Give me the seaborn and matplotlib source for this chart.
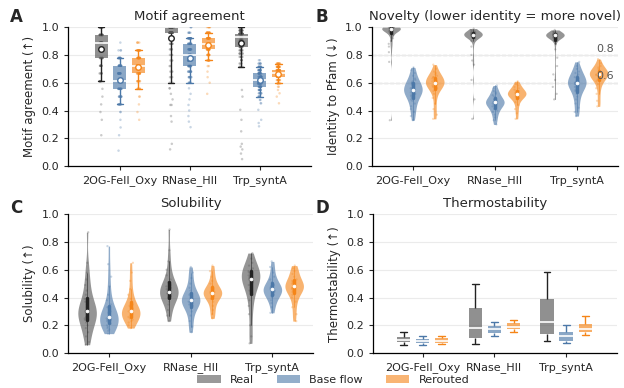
import numpy as np
import pandas as pd
import matplotlib
matplotlib.use("Agg")
import matplotlib.pyplot as plt
import matplotlib.transforms as mtransforms
from matplotlib.patches import Patch
import seaborn as sns

# ====================
# DATA
# ====================

families = ["2OG-FeII_Oxy", "RNase_HII", "Trp_syntA"]
methods = ["Real", "Base flow", "Rerouted"]

# A - motif agreement is discrete: levels per family, number of designs per level
motif_levels_2og = [0.111, 0.222, 0.278, 0.333, 0.389, 0.444, 0.5, 0.556, 0.611, 0.667,
                    0.722, 0.778, 0.833, 0.889, 0.944, 1.0]
motif_counts_2og_real = [0, 1, 0, 1, 1, 1, 1, 1, 6, 5, 8, 12, 16, 22, 22, 23]
motif_counts_2og_base = [1, 1, 1, 1, 2, 8, 10, 16, 22, 20, 20, 14, 3, 1, 0, 0]
motif_counts_2og_rerouted = [0, 0, 0, 1, 1, 1, 2, 6, 8, 14, 26, 24, 13, 4, 0, 0]

motif_levels_rnase = [0.12, 0.16, 0.28, 0.32, 0.36, 0.40, 0.44, 0.48, 0.52, 0.56, 0.60,
                      0.64, 0.68, 0.72, 0.76, 0.80, 0.84, 0.88, 0.92, 0.96, 1.0]
motif_counts_rnase_real = [1, 1, 0, 1, 1, 0, 2, 1, 1, 2, 2, 3, 3, 2, 3, 3, 4, 6, 10, 50, 104]
motif_counts_rnase_base = [0, 0, 1, 1, 1, 1, 1, 1, 1, 1, 6, 8, 12, 18, 20, 22, 20, 18, 20, 5, 3]
motif_counts_rnase_rerouted = [0, 0, 0, 0, 0, 0, 0, 0, 1, 0, 1, 1, 1, 2, 8, 12, 18, 30, 24, 16, 6]

motif_levels_trp = [0.05, 0.09, 0.12, 0.14, 0.16, 0.25, 0.286, 0.31, 0.333, 0.405, 0.452,
                    0.476, 0.5, 0.524, 0.548, 0.571, 0.595, 0.619, 0.643, 0.667, 0.69,
                    0.714, 0.738, 0.762, 0.786, 0.81, 0.833, 0.857, 0.881, 0.905, 0.929,
                    0.952, 0.976, 1.0]
motif_counts_trp_real = [1, 1, 1, 1, 1, 1, 0, 0, 1, 1, 0, 0, 1, 0, 1, 0, 0, 0, 0, 0, 0,
                         4, 3, 4, 5, 6, 8, 12, 14, 16, 22, 50, 24, 22]
motif_counts_trp_base = [0, 0, 0, 0, 0, 0, 1, 1, 1, 1, 2, 2, 5, 7, 10, 16, 20, 22, 20, 16,
                         14, 14, 6, 2, 0, 0, 0, 0, 0, 0, 0, 0, 0, 0]
motif_counts_trp_rerouted = [0, 0, 0, 0, 0, 0, 0, 0, 0, 0, 1, 0, 1, 1, 1, 2, 6, 10, 18, 30,
                             22, 18, 10, 0, 0, 0, 0, 0, 0, 0, 0, 0, 0, 0]

# B - identity to Pfam
novelty_2og_real = [0.33, 0.75, 0.82, 0.86, 0.88, 0.90, 0.92, 0.94, 0.95, 0.96, 0.97, 0.97,
                    0.975, 0.98, 0.98, 0.98, 0.985, 0.985, 0.99, 0.99, 0.99, 0.99, 0.99,
                    0.99, 0.995, 0.995, 0.995, 1.0, 1.0, 1.0, 1.0, 1.0, 1.0, 1.0, 1.0]
novelty_2og_base = [0.33, 0.36, 0.39, 0.41, 0.43, 0.45, 0.47, 0.48, 0.49, 0.50, 0.51, 0.52,
                    0.53, 0.53, 0.54, 0.545, 0.55, 0.55, 0.56, 0.56, 0.57, 0.58, 0.59, 0.60,
                    0.60, 0.61, 0.62, 0.63, 0.65, 0.67, 0.69, 0.71]
novelty_2og_rerouted = [0.34, 0.37, 0.41, 0.45, 0.49, 0.52, 0.54, 0.55, 0.56, 0.57, 0.58,
                        0.58, 0.59, 0.59, 0.60, 0.60, 0.60, 0.61, 0.61, 0.62, 0.62, 0.63,
                        0.64, 0.64, 0.65, 0.66, 0.67, 0.68, 0.70, 0.73]
novelty_rnase_real = [0.34, 0.48, 0.62, 0.73, 0.76, 0.80, 0.86, 0.90, 0.92, 0.925, 0.93,
                      0.93, 0.935, 0.935, 0.94, 0.94, 0.94, 0.94, 0.945, 0.945, 0.945, 0.95,
                      0.95, 0.95, 0.95, 0.95, 0.955, 0.955, 0.955, 0.96, 0.96, 0.96, 0.965,
                      0.965, 0.97, 0.975, 0.98, 0.99]
novelty_rnase_base = [0.30, 0.33, 0.35, 0.37, 0.39, 0.40, 0.41, 0.42, 0.43, 0.44, 0.44,
                      0.45, 0.45, 0.46, 0.46, 0.46, 0.47, 0.47, 0.48, 0.48, 0.49, 0.50,
                      0.51, 0.52, 0.53, 0.54, 0.56, 0.58]
novelty_rnase_rerouted = [0.34, 0.38, 0.41, 0.44, 0.46, 0.48, 0.49, 0.50, 0.50, 0.51, 0.51,
                          0.52, 0.52, 0.52, 0.525, 0.53, 0.53, 0.54, 0.54, 0.55, 0.56, 0.57,
                          0.58, 0.59, 0.61]
novelty_trp_real = [0.48, 0.52, 0.57, 0.62, 0.66, 0.72, 0.78, 0.84, 0.88, 0.91, 0.92, 0.925,
                    0.93, 0.93, 0.935, 0.935, 0.935, 0.94, 0.94, 0.94, 0.94, 0.94, 0.945,
                    0.945, 0.945, 0.945, 0.95, 0.95, 0.95, 0.95, 0.955, 0.955, 0.96, 0.96,
                    0.965, 0.97, 0.98]
novelty_trp_base = [0.36, 0.39, 0.42, 0.45, 0.48, 0.50, 0.52, 0.54, 0.55, 0.56, 0.57, 0.58,
                    0.59, 0.59, 0.60, 0.60, 0.61, 0.61, 0.62, 0.63, 0.64, 0.65, 0.66, 0.67,
                    0.68, 0.70, 0.72, 0.75]
novelty_trp_rerouted = [0.43, 0.47, 0.52, 0.56, 0.59, 0.61, 0.62, 0.63, 0.64, 0.65, 0.655,
                        0.66, 0.66, 0.665, 0.67, 0.67, 0.68, 0.68, 0.69, 0.70, 0.71, 0.72,
                        0.74, 0.77]

# C - solubility
sol_2og_real = [0.06, 0.08, 0.12, 0.15, 0.18, 0.20, 0.22, 0.24, 0.25, 0.26, 0.27, 0.28,
                0.29, 0.30, 0.30, 0.31, 0.32, 0.33, 0.35, 0.37, 0.39, 0.42, 0.45, 0.49,
                0.53, 0.58, 0.65, 0.87]
sol_2og_base = [0.14, 0.16, 0.17, 0.18, 0.19, 0.20, 0.21, 0.22, 0.23, 0.24, 0.24, 0.25,
                0.25, 0.26, 0.27, 0.28, 0.29, 0.30, 0.31, 0.33, 0.35, 0.38, 0.42, 0.48,
                0.55, 0.64, 0.77]
sol_2og_rerouted = [0.18, 0.20, 0.22, 0.23, 0.24, 0.25, 0.26, 0.27, 0.28, 0.28, 0.29, 0.29,
                    0.30, 0.30, 0.31, 0.32, 0.33, 0.34, 0.35, 0.37, 0.39, 0.42, 0.46,
                    0.52, 0.58, 0.65]
sol_rnase_real = [0.23, 0.27, 0.31, 0.35, 0.37, 0.39, 0.40, 0.41, 0.42, 0.43, 0.43, 0.44,
                  0.44, 0.45, 0.46, 0.47, 0.48, 0.49, 0.51, 0.53, 0.56, 0.60, 0.66, 0.74,
                  0.89]
sol_rnase_base = [0.15, 0.19, 0.23, 0.27, 0.30, 0.32, 0.34, 0.35, 0.36, 0.37, 0.37, 0.38,
                  0.38, 0.39, 0.40, 0.41, 0.42, 0.43, 0.45, 0.47, 0.50, 0.54, 0.58, 0.62]
sol_rnase_rerouted = [0.25, 0.28, 0.31, 0.34, 0.37, 0.39, 0.40, 0.41, 0.42, 0.42, 0.43,
                      0.43, 0.44, 0.44, 0.45, 0.46, 0.47, 0.48, 0.50, 0.52, 0.55, 0.59,
                      0.63]
sol_trp_real = [0.07, 0.12, 0.20, 0.28, 0.34, 0.38, 0.42, 0.45, 0.47, 0.49, 0.51, 0.52,
                0.53, 0.54, 0.545, 0.55, 0.56, 0.57, 0.58, 0.59, 0.60, 0.61, 0.63, 0.65,
                0.68, 0.72]
sol_trp_base = [0.29, 0.33, 0.36, 0.38, 0.40, 0.41, 0.42, 0.43, 0.44, 0.45, 0.45, 0.46,
                0.46, 0.47, 0.48, 0.49, 0.50, 0.51, 0.53, 0.55, 0.58, 0.62, 0.66]
sol_trp_rerouted = [0.23, 0.28, 0.33, 0.37, 0.40, 0.42, 0.44, 0.45, 0.46, 0.47, 0.47, 0.48,
                    0.48, 0.49, 0.50, 0.51, 0.52, 0.53, 0.55, 0.57, 0.59, 0.61, 0.63]

# D - thermostability (whisker low, Q1, median, Q3, whisker high)
thermo_2og_real = [0.06, 0.08, 0.095, 0.115, 0.15]
thermo_2og_base = [0.055, 0.07, 0.085, 0.10, 0.12]
thermo_2og_rerouted = [0.065, 0.075, 0.09, 0.11, 0.125]
thermo_rnase_real = [0.065, 0.11, 0.18, 0.325, 0.50]
thermo_rnase_base = [0.12, 0.145, 0.17, 0.195, 0.225]
thermo_rnase_rerouted = [0.15, 0.17, 0.19, 0.22, 0.24]
thermo_trp_real = [0.09, 0.14, 0.225, 0.39, 0.585]
thermo_trp_base = [0.07, 0.09, 0.12, 0.15, 0.20]
thermo_trp_rerouted = [0.13, 0.15, 0.175, 0.21, 0.265]

# ====================
# STYLE
# ====================

colors = {"Real": "#555555", "Base flow": "#4c78a8", "Rerouted": "#f58518"}
line_colors = {"Real": "#222222", "Base flow": "#4c78a8", "Rerouted": "#f58518"}

sns.set_theme(style="ticks")
plt.rcParams.update({
    "font.family": ["DejaVu Sans"],
    "font.size": 8,
    "axes.titlesize": 9.5,
    "axes.labelsize": 8.5,
    "xtick.labelsize": 8,
    "ytick.labelsize": 8,
    "axes.edgecolor": "black",
    "axes.linewidth": 0.9,
    "xtick.major.size": 3,
    "ytick.major.size": 3,
    "xtick.major.width": 0.8,
    "ytick.major.width": 0.8,
})
np.random.seed(3)


def long_frame(groups):
    rows = []
    for (fam, meth), vals in groups.items():
        for v in vals:
            rows.append((fam, meth, v))
    return pd.DataFrame(rows, columns=["family", "method", "value"])


df_motif = long_frame({
    (families[0], "Real"): np.repeat(motif_levels_2og, motif_counts_2og_real),
    (families[0], "Base flow"): np.repeat(motif_levels_2og, motif_counts_2og_base),
    (families[0], "Rerouted"): np.repeat(motif_levels_2og, motif_counts_2og_rerouted),
    (families[1], "Real"): np.repeat(motif_levels_rnase, motif_counts_rnase_real),
    (families[1], "Base flow"): np.repeat(motif_levels_rnase, motif_counts_rnase_base),
    (families[1], "Rerouted"): np.repeat(motif_levels_rnase, motif_counts_rnase_rerouted),
    (families[2], "Real"): np.repeat(motif_levels_trp, motif_counts_trp_real),
    (families[2], "Base flow"): np.repeat(motif_levels_trp, motif_counts_trp_base),
    (families[2], "Rerouted"): np.repeat(motif_levels_trp, motif_counts_trp_rerouted),
})
df_novelty = long_frame({
    (families[0], "Real"): novelty_2og_real,
    (families[0], "Base flow"): novelty_2og_base,
    (families[0], "Rerouted"): novelty_2og_rerouted,
    (families[1], "Real"): novelty_rnase_real,
    (families[1], "Base flow"): novelty_rnase_base,
    (families[1], "Rerouted"): novelty_rnase_rerouted,
    (families[2], "Real"): novelty_trp_real,
    (families[2], "Base flow"): novelty_trp_base,
    (families[2], "Rerouted"): novelty_trp_rerouted,
})
df_sol = long_frame({
    (families[0], "Real"): sol_2og_real,
    (families[0], "Base flow"): sol_2og_base,
    (families[0], "Rerouted"): sol_2og_rerouted,
    (families[1], "Real"): sol_rnase_real,
    (families[1], "Base flow"): sol_rnase_base,
    (families[1], "Rerouted"): sol_rnase_rerouted,
    (families[2], "Real"): sol_trp_real,
    (families[2], "Base flow"): sol_trp_base,
    (families[2], "Rerouted"): sol_trp_rerouted,
})
df_thermo = long_frame({
    (families[0], "Real"): thermo_2og_real,
    (families[0], "Base flow"): thermo_2og_base,
    (families[0], "Rerouted"): thermo_2og_rerouted,
    (families[1], "Real"): thermo_rnase_real,
    (families[1], "Base flow"): thermo_rnase_base,
    (families[1], "Rerouted"): thermo_rnase_rerouted,
    (families[2], "Real"): thermo_trp_real,
    (families[2], "Base flow"): thermo_trp_base,
    (families[2], "Rerouted"): thermo_trp_rerouted,
})


def common_kws(sub):
    return dict(data=sub, x="family", y="value", hue="method", order=families,
                hue_order=methods, palette=colors, dodge=True, legend=False)


def draw_boxes(ax, df, with_points, whis):
    for m in methods:
        sub = df[df["method"] == m]
        lc = line_colors[m]
        if with_points:
            sns.stripplot(**common_kws(sub), jitter=0.07, size=1.8, alpha=0.3,
                          linewidth=0, zorder=1, ax=ax)
        sns.boxplot(**common_kws(sub), saturation=1, width=0.8, gap=0.3, whis=whis,
                    showfliers=False, showmeans=with_points, linecolor=lc, linewidth=1,
                    boxprops=dict(alpha=0.65, linewidth=0),
                    medianprops=dict(color="white", linewidth=1.2),
                    meanprops=dict(marker="o", markerfacecolor="white",
                                   markeredgecolor=lc, markersize=4,
                                   markeredgewidth=1),
                    ax=ax)


def draw_violins(ax, df, bw):
    for m in methods:
        sub = df[df["method"] == m]
        sns.violinplot(**common_kws(sub), saturation=1, width=0.8, gap=0.15,
                       density_norm="width", cut=0, bw_adjust=bw[m], inner="box",
                       inner_kws=dict(box_width=2.5, whis_width=0.4, marker="o"),
                       linewidth=0, linecolor=line_colors[m], alpha=0.62, ax=ax)
        sns.stripplot(**common_kws(sub), jitter=0.09, size=1.6, alpha=0.3,
                      linewidth=0, zorder=1.5, ax=ax)


def finish(ax, title, ylabel, xlim=None):
    ax.set_ylim(0, 1.0)
    ax.set_yticks([0.0, 0.2, 0.4, 0.6, 0.8, 1.0])
    ax.set_yticklabels(["0.0", "0.2", "0.4", "0.6", "0.8", "1.0"])
    if xlim is not None:
        ax.set_xlim(*xlim)
    ax.yaxis.grid(True, color="#ebebeb", linewidth=0.8)
    ax.set_axisbelow(True)
    ax.set_title(title, pad=5)
    ax.set_ylabel(ylabel)
    ax.set_xlabel("")
    sns.despine(ax=ax)


# ====================
# FIGURE
# ====================

fig = plt.figure(figsize=(6.24, 3.88), dpi=100)
ax_a = fig.add_axes([0.109, 0.572, 0.389, 0.358])
ax_b = fig.add_axes([0.596, 0.572, 0.394, 0.358])
ax_c = fig.add_axes([0.109, 0.090, 0.393, 0.358])
ax_d = fig.add_axes([0.598, 0.090, 0.391, 0.358])

draw_boxes(ax_a, df_motif, with_points=True, whis=(5, 95))
finish(ax_a, "Motif agreement", "Motif agreement (↑)", xlim=(-0.74, 2.73))

draw_violins(ax_b, df_novelty, {"Real": 0.35, "Base flow": 0.8, "Rerouted": 0.8})
finish(ax_b, "Novelty (lower identity = more novel)", "Identity to Pfam (↓)",
       xlim=(-0.5, 2.5))
trans = mtransforms.blended_transform_factory(ax_b.transAxes, ax_b.transData)
for level in [0.8, 0.6]:
    ax_b.axhline(level, color="#555555", linestyle="--", linewidth=0.8, zorder=0.5)
    ax_b.text(0.985, level + 0.01, f"{level:.1f}", transform=trans, ha="right",
              va="bottom", color="#555555", fontsize=8)

draw_violins(ax_c, df_sol, {"Real": 0.8, "Base flow": 0.8, "Rerouted": 0.8})
finish(ax_c, "Solubility", "Solubility (↑)", xlim=(-0.5, 2.5))

draw_boxes(ax_d, df_thermo, with_points=False, whis=1.5)
finish(ax_d, "Thermostability", "Thermostability (↑)", xlim=(-0.69, 2.71))

for letter, x, y in [("A", 0.016, 0.955), ("B", 0.506, 0.955),
                     ("C", 0.016, 0.465), ("D", 0.506, 0.465)]:
    fig.text(x, y, letter, fontsize=12, fontweight="bold", va="center", ha="left")

handles = [Patch(facecolor=colors[m], edgecolor="none", alpha=0.6, label=m) for m in methods]
fig.legend(handles=handles, loc="lower center", ncol=3, frameon=False,
           bbox_to_anchor=(0.534, -0.012), fontsize=8, handlelength=2.1,
           columnspacing=2.1, handletextpad=0.8, borderpad=0.2)

fig.savefig("out.png", dpi=100)
